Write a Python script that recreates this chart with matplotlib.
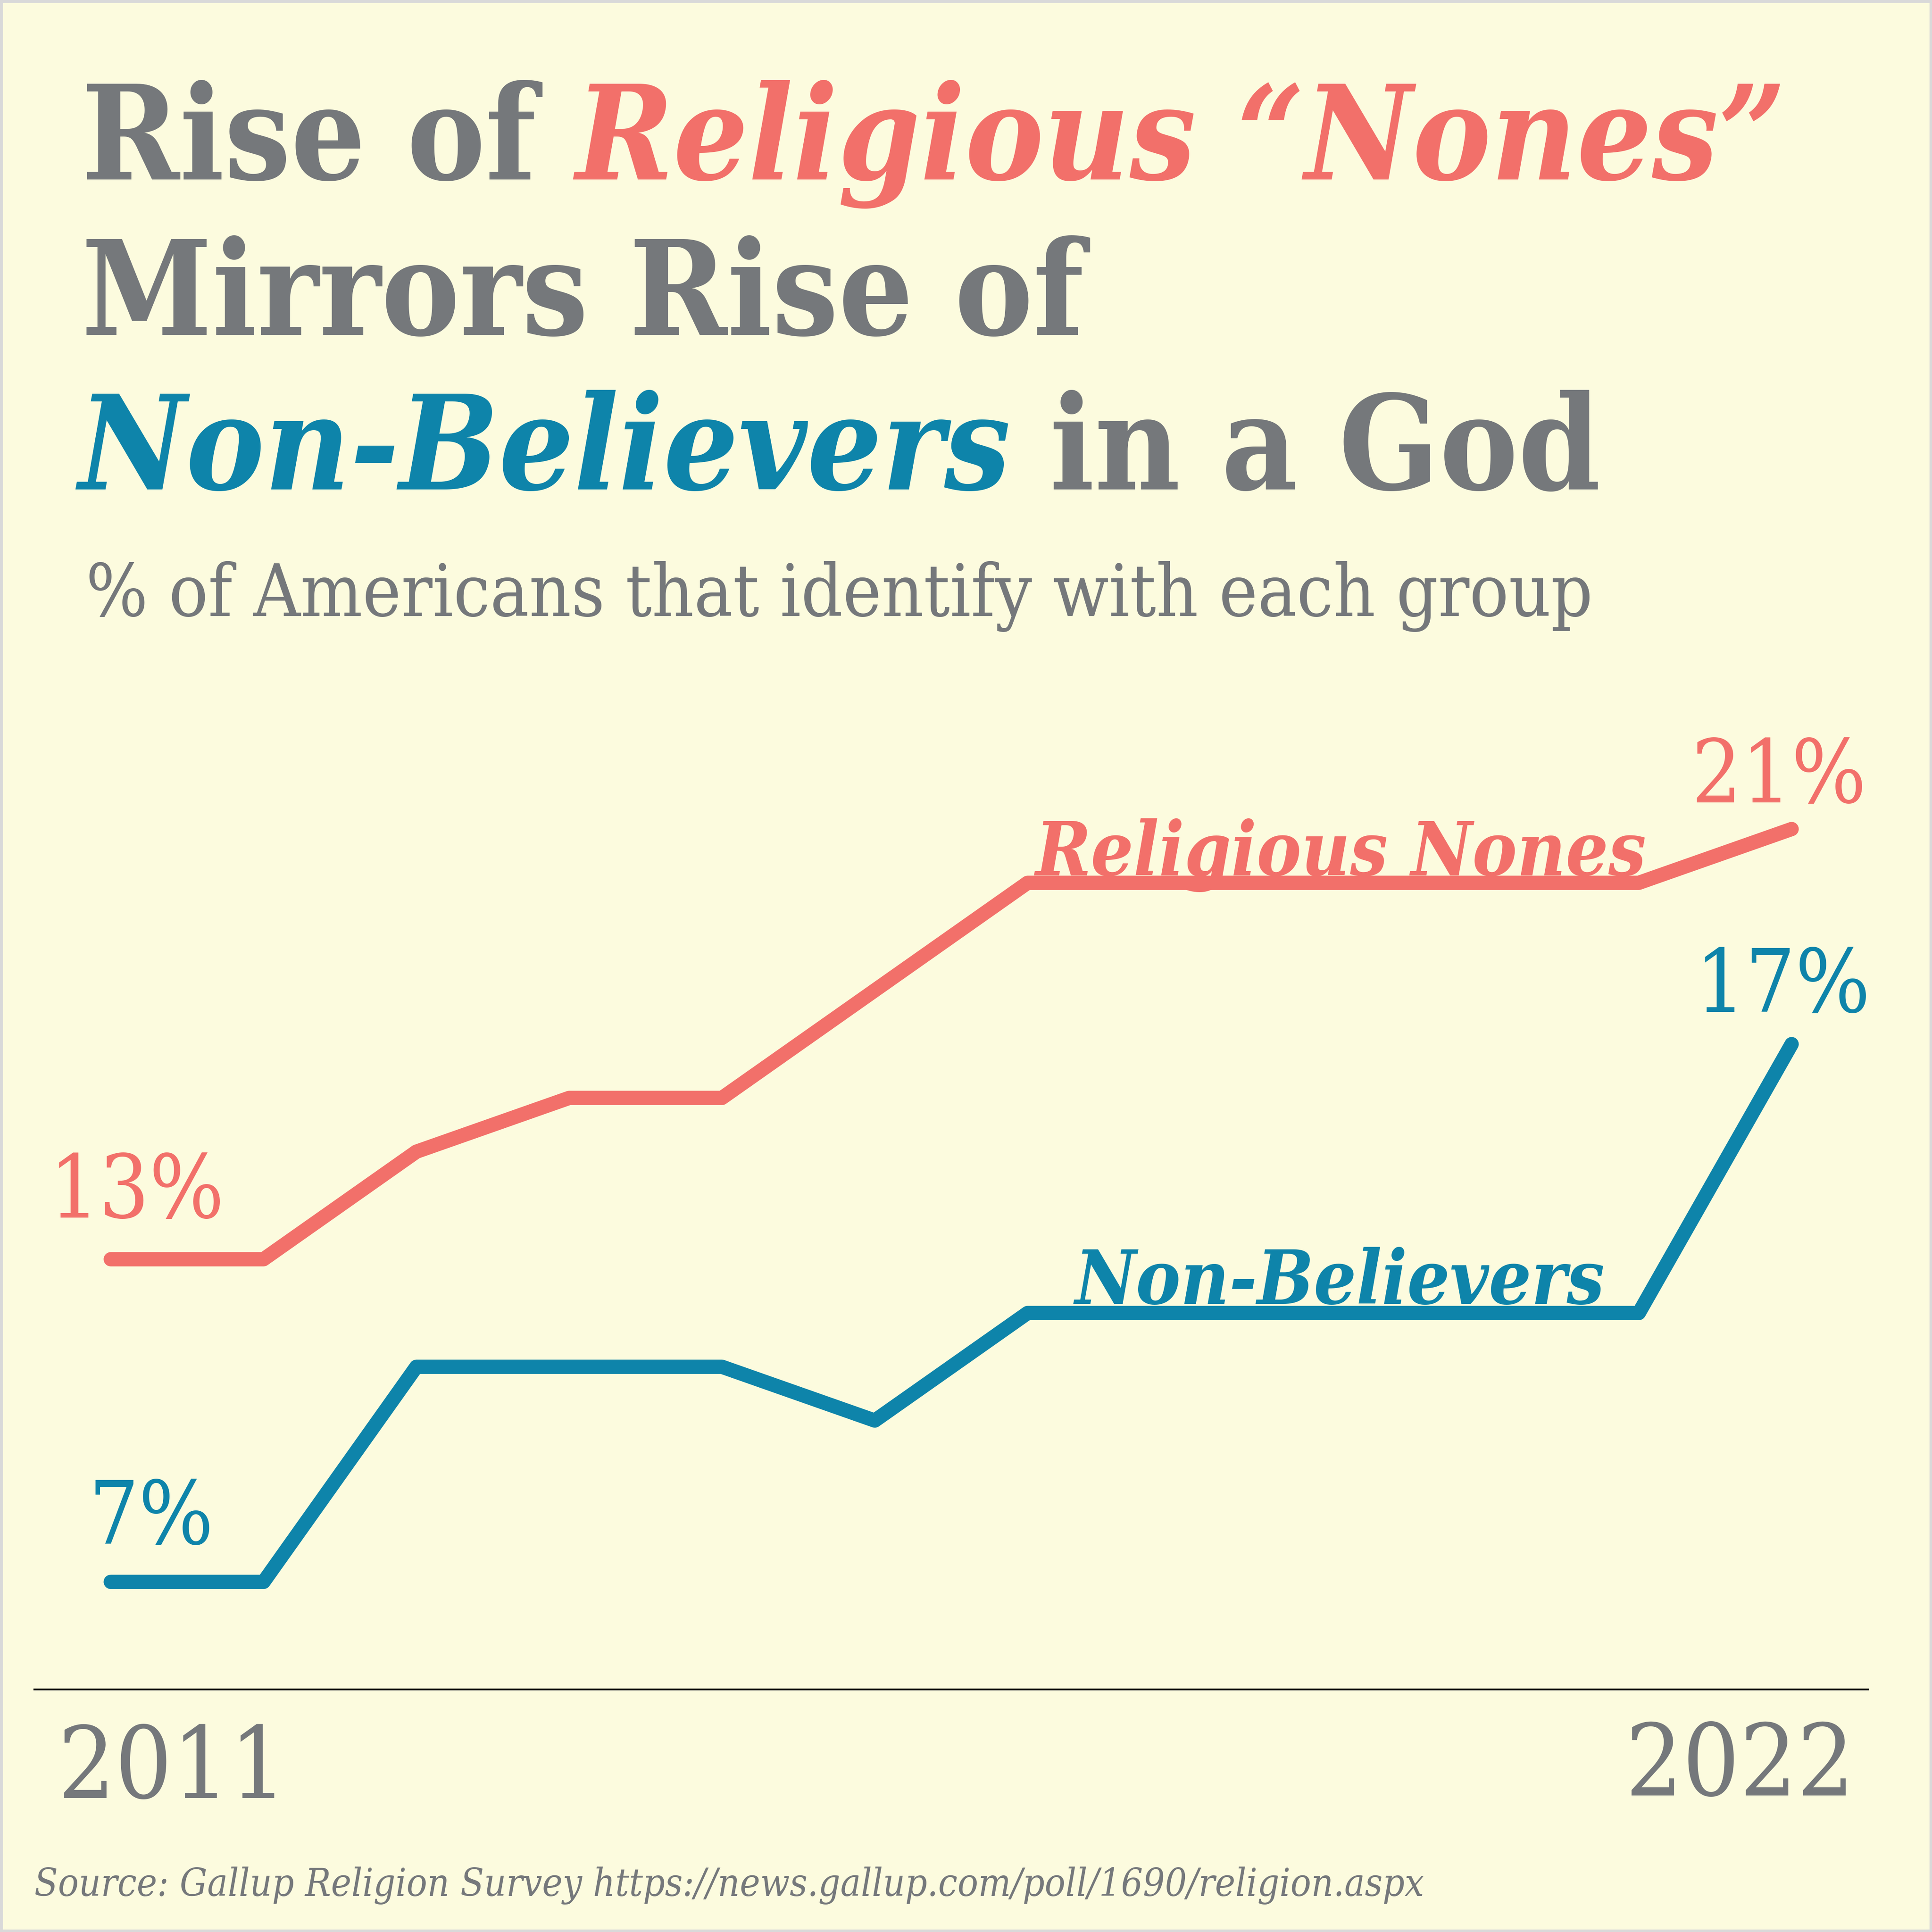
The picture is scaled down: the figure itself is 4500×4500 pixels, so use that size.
import matplotlib
matplotlib.use('Agg')
import matplotlib.pyplot as plt
from matplotlib.patches import Rectangle

# ---------------- data ----------------
years = list(range(2011, 2023))
religious_nones = [13, 13, 15, 16, 16, 18, 20, 20, 20, 20, 20, 21]
non_believers = [7, 7, 11, 11, 11, 10, 12, 12, 12, 12, 12, 17]
series_names = ["Religious Nones", "Non-Believers"]
year_labels = ["2011", "2022"]
title_line1 = ["Rise of", "Religious \u201cNones\u201d"]
title_line2 = "Mirrors Rise of"
title_line3 = ["Non-Believers", "in a God"]
subtitle = "% of Americans that identify with each group"
source = "Source: Gallup Religion Survey https://news.gallup.com/poll/1690/religion.aspx"

# ---------------- style ----------------
BG = '#FCFBDE'
GREY = '#75787B'
SALMON = '#F2706A'
BLUE = '#0E84AA'
SERIF = 'DejaVu Serif'
STRETCH = 'condensed'

W = 4500
fig = plt.figure(figsize=(15, 15), dpi=300, facecolor=BG)
renderer = fig.canvas.get_renderer()


def fx(px):
    return px / W


def fy(py):
    return 1 - py / W


def measure(text, size, **kw):
    t = fig.text(0, 0, text, fontsize=size, **kw)
    w = t.get_window_extent(renderer).width
    t.remove()
    return w


def fit(text, target_w, **kw):
    ref = 50
    return ref * target_w / measure(text, ref, **kw)


bold = dict(family=SERIF, weight='bold', stretch=STRETCH)
bold_it = dict(family=SERIF, weight='bold', style='italic', stretch=STRETCH)
reg = dict(family=SERIF, stretch=STRETCH)


def place_segments(segs, x_px, base_px, size):
    gap = 0.30 * size * 300 / 72
    x = x_px
    for text, color, kw in segs:
        t = fig.text(fx(x), fy(base_px), text, fontsize=size, color=color,
                     ha='left', va='baseline', **kw)
        x += t.get_window_extent(renderer).width + gap


# ---------------- title ----------------
ref = 50
gap_ref = 0.30 * ref * 300 / 72
w_line1 = (measure(title_line1[0], ref, **bold) + gap_ref
           + measure(title_line1[1], ref, **bold_it))
tsize = ref * (4161 - 190) / w_line1

place_segments([(title_line1[0], GREY, bold), (title_line1[1], SALMON, bold_it)],
               190, 418, tsize)
place_segments([(title_line2, GREY, bold)], 190, 780, tsize)
place_segments([(title_line3[0], BLUE, bold_it), (title_line3[1], GREY, bold)],
               182, 1140, tsize)

# subtitle
ssize = fit(subtitle, 3711 - 200, **reg)
fig.text(fx(200), fy(1435), subtitle, fontsize=ssize, color=GREY,
         ha='left', va='baseline', **reg)

# ---------------- chart ----------------
ax = fig.add_axes([fx(80), fy(3935), (4351 - 80) / W, (3935 - 1680.5) / W])
ax.set_facecolor('none')
ax.set_xlim(2010.5, 2022.5)
ax.set_ylim(5, 23)
for side in ['top', 'left', 'right']:
    ax.spines[side].set_visible(False)
ax.spines['bottom'].set_color('black')
ax.spines['bottom'].set_linewidth(1.0)
ax.set_xticks([])
ax.set_yticks([])

ax.plot(years, religious_nones, color=SALMON, lw=8, solid_capstyle='round',
        solid_joinstyle='round', clip_on=False, zorder=3)
ax.plot(years, non_believers, color=BLUE, lw=8, solid_capstyle='round',
        solid_joinstyle='round', clip_on=False, zorder=3)

# series labels
lsize1 = fit(series_names[0], 3836 - 2412, **bold_it)
fig.text(fx(2412), fy(2039), series_names[0], fontsize=lsize1, color=SALMON,
         ha='left', va='baseline', zorder=4, **bold_it)
fig.text(fx(2503), fy(3037), series_names[1], fontsize=lsize1, color=BLUE,
         ha='left', va='baseline', zorder=4, **bold_it)

# value labels
psize = 49
fig.text(fx(115), fy(2836), f"{religious_nones[0]}%", fontsize=psize, color=SALMON,
         ha='left', va='baseline', **reg)
fig.text(fx(207), fy(3596), f"{non_believers[0]}%", fontsize=psize, color=BLUE,
         ha='left', va='baseline', **reg)
fig.text(fx(4348), fy(1869), f"{religious_nones[-1]}%", fontsize=psize, color=SALMON,
         ha='right', va='baseline', **reg)
fig.text(fx(4357), fy(2357), f"{non_believers[-1]}%", fontsize=psize, color=BLUE,
         ha='right', va='baseline', **reg)

# year labels
ysize = 56
fig.text(fx(135), fy(4188), year_labels[0], fontsize=ysize, color=GREY,
         ha='left', va='baseline', **reg)
fig.text(fx(4320), fy(4182), year_labels[1], fontsize=ysize, color=GREY,
         ha='right', va='baseline', **reg)

# source
src_kw = dict(family=SERIF, style='italic', stretch=STRETCH)
srcsize = fit(source, 3315 - 80, **src_kw)
fig.text(fx(80), fy(4416), source, fontsize=srcsize, color=GREY,
         ha='left', va='baseline', **src_kw)

# border
fig.patches.append(Rectangle((0, 0), 1, 1, transform=fig.transFigure, fill=False,
                             edgecolor='#D9D9D9', linewidth=3, zorder=10))

fig.savefig('out.png', dpi=300, facecolor=BG)
